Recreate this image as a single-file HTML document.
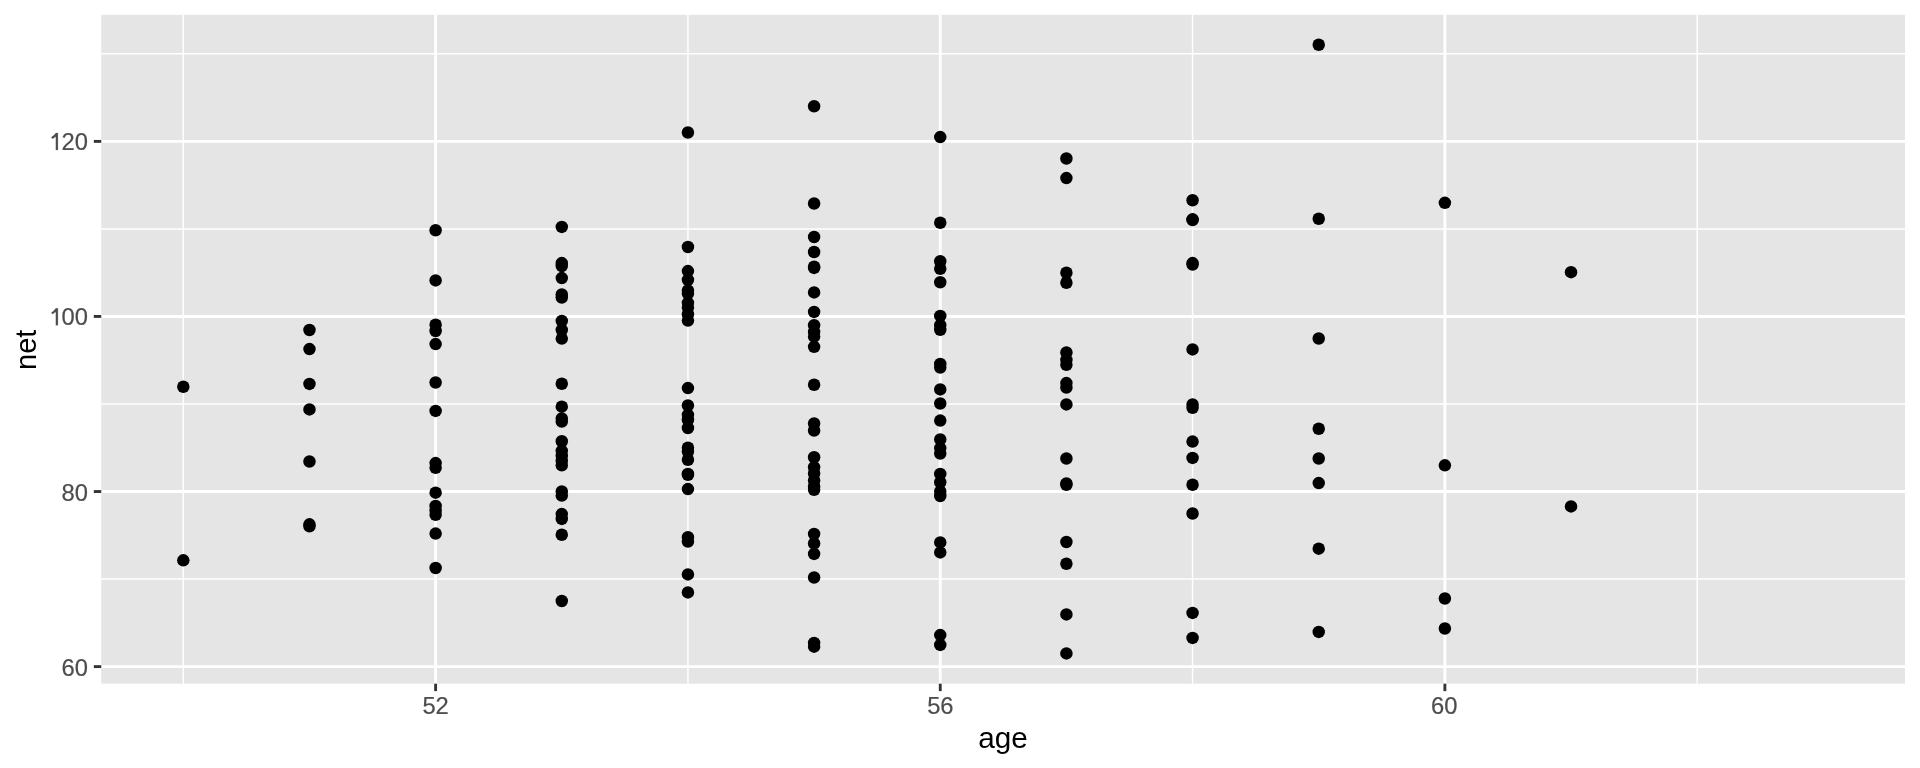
<!DOCTYPE html><html><head><meta charset="utf-8"><style>html,body{margin:0;padding:0;background:#fff;overflow:hidden}svg{display:block;will-change:transform}text{font-family:"Liberation Sans",sans-serif}</style></head><body>
<svg width="1920" height="768" viewBox="0 0 1920 768">
<rect x="0" y="0" width="1920" height="768" fill="#fff"/>
<rect x="101.25" y="14.85" width="1803.75" height="668.85" fill="#E5E5E5"/>
<line x1="101.25" y1="579.07" x2="1905.0" y2="579.07" stroke="#fff" stroke-width="1.44"/><line x1="101.25" y1="404.00" x2="1905.0" y2="404.00" stroke="#fff" stroke-width="1.44"/><line x1="101.25" y1="228.92" x2="1905.0" y2="228.92" stroke="#fff" stroke-width="1.44"/><line x1="101.25" y1="53.84" x2="1905.0" y2="53.84" stroke="#fff" stroke-width="1.44"/><line x1="183.31" y1="14.85" x2="183.31" y2="683.7" stroke="#fff" stroke-width="1.44"/><line x1="687.94" y1="14.85" x2="687.94" y2="683.7" stroke="#fff" stroke-width="1.44"/><line x1="1192.57" y1="14.85" x2="1192.57" y2="683.7" stroke="#fff" stroke-width="1.44"/><line x1="1697.20" y1="14.85" x2="1697.20" y2="683.7" stroke="#fff" stroke-width="1.44"/><line x1="101.25" y1="666.61" x2="1905.0" y2="666.61" stroke="#fff" stroke-width="2.88"/><line x1="101.25" y1="491.53" x2="1905.0" y2="491.53" stroke="#fff" stroke-width="2.88"/><line x1="101.25" y1="316.46" x2="1905.0" y2="316.46" stroke="#fff" stroke-width="2.88"/><line x1="101.25" y1="141.38" x2="1905.0" y2="141.38" stroke="#fff" stroke-width="2.88"/><line x1="435.62" y1="14.85" x2="435.62" y2="683.7" stroke="#fff" stroke-width="2.88"/><line x1="940.25" y1="14.85" x2="940.25" y2="683.7" stroke="#fff" stroke-width="2.88"/><line x1="1444.88" y1="14.85" x2="1444.88" y2="683.7" stroke="#fff" stroke-width="2.88"/>
<g fill="#000"><circle cx="183.31" cy="386.75" r="6.24"/><circle cx="183.31" cy="560.30" r="6.24"/><circle cx="309.47" cy="330.00" r="6.24"/><circle cx="309.47" cy="349.10" r="6.24"/><circle cx="309.47" cy="383.90" r="6.24"/><circle cx="309.47" cy="409.40" r="6.24"/><circle cx="309.47" cy="461.50" r="6.24"/><circle cx="309.47" cy="524.30" r="6.24"/><circle cx="309.47" cy="526.30" r="6.24"/><circle cx="435.62" cy="230.25" r="6.24"/><circle cx="435.62" cy="280.40" r="6.24"/><circle cx="435.62" cy="324.75" r="6.24"/><circle cx="435.62" cy="331.00" r="6.24"/><circle cx="435.62" cy="344.10" r="6.24"/><circle cx="435.62" cy="382.50" r="6.24"/><circle cx="435.62" cy="410.90" r="6.24"/><circle cx="435.62" cy="463.10" r="6.24"/><circle cx="435.62" cy="467.75" r="6.24"/><circle cx="435.62" cy="492.70" r="6.24"/><circle cx="435.62" cy="506.00" r="6.24"/><circle cx="435.62" cy="510.50" r="6.24"/><circle cx="435.62" cy="514.75" r="6.24"/><circle cx="435.62" cy="533.60" r="6.24"/><circle cx="435.62" cy="568.00" r="6.24"/><circle cx="561.78" cy="226.90" r="6.24"/><circle cx="561.78" cy="263.10" r="6.24"/><circle cx="561.78" cy="266.00" r="6.24"/><circle cx="561.78" cy="278.10" r="6.24"/><circle cx="561.78" cy="294.40" r="6.24"/><circle cx="561.78" cy="297.50" r="6.24"/><circle cx="561.78" cy="321.00" r="6.24"/><circle cx="561.78" cy="330.00" r="6.24"/><circle cx="561.78" cy="338.60" r="6.24"/><circle cx="561.78" cy="383.75" r="6.24"/><circle cx="561.78" cy="406.70" r="6.24"/><circle cx="561.78" cy="418.50" r="6.24"/><circle cx="561.78" cy="421.60" r="6.24"/><circle cx="561.78" cy="441.25" r="6.24"/><circle cx="561.78" cy="451.00" r="6.24"/><circle cx="561.78" cy="456.00" r="6.24"/><circle cx="561.78" cy="461.00" r="6.24"/><circle cx="561.78" cy="465.30" r="6.24"/><circle cx="561.78" cy="491.40" r="6.24"/><circle cx="561.78" cy="495.60" r="6.24"/><circle cx="561.78" cy="514.10" r="6.24"/><circle cx="561.78" cy="518.90" r="6.24"/><circle cx="561.78" cy="534.75" r="6.24"/><circle cx="561.78" cy="601.00" r="6.24"/><circle cx="687.94" cy="132.50" r="6.24"/><circle cx="687.94" cy="247.00" r="6.24"/><circle cx="687.94" cy="271.05" r="6.24"/><circle cx="687.94" cy="279.80" r="6.24"/><circle cx="687.94" cy="290.50" r="6.24"/><circle cx="687.94" cy="293.50" r="6.24"/><circle cx="687.94" cy="302.80" r="6.24"/><circle cx="687.94" cy="307.60" r="6.24"/><circle cx="687.94" cy="314.20" r="6.24"/><circle cx="687.94" cy="320.55" r="6.24"/><circle cx="687.94" cy="388.10" r="6.24"/><circle cx="687.94" cy="405.40" r="6.24"/><circle cx="687.94" cy="414.80" r="6.24"/><circle cx="687.94" cy="420.00" r="6.24"/><circle cx="687.94" cy="428.00" r="6.24"/><circle cx="687.94" cy="447.65" r="6.24"/><circle cx="687.94" cy="451.50" r="6.24"/><circle cx="687.94" cy="459.75" r="6.24"/><circle cx="687.94" cy="473.90" r="6.24"/><circle cx="687.94" cy="474.75" r="6.24"/><circle cx="687.94" cy="489.10" r="6.24"/><circle cx="687.94" cy="537.25" r="6.24"/><circle cx="687.94" cy="541.50" r="6.24"/><circle cx="687.94" cy="574.45" r="6.24"/><circle cx="687.94" cy="592.40" r="6.24"/><circle cx="814.10" cy="106.25" r="6.24"/><circle cx="814.10" cy="203.50" r="6.24"/><circle cx="814.10" cy="237.00" r="6.24"/><circle cx="814.10" cy="252.00" r="6.24"/><circle cx="814.10" cy="266.65" r="6.24"/><circle cx="814.10" cy="267.90" r="6.24"/><circle cx="814.10" cy="292.40" r="6.24"/><circle cx="814.10" cy="311.90" r="6.24"/><circle cx="814.10" cy="325.20" r="6.24"/><circle cx="814.10" cy="332.00" r="6.24"/><circle cx="814.10" cy="336.60" r="6.24"/><circle cx="814.10" cy="346.80" r="6.24"/><circle cx="814.10" cy="384.75" r="6.24"/><circle cx="814.10" cy="423.50" r="6.24"/><circle cx="814.10" cy="430.50" r="6.24"/><circle cx="814.10" cy="457.25" r="6.24"/><circle cx="814.10" cy="467.25" r="6.24"/><circle cx="814.10" cy="473.50" r="6.24"/><circle cx="814.10" cy="480.50" r="6.24"/><circle cx="814.10" cy="486.50" r="6.24"/><circle cx="814.10" cy="489.75" r="6.24"/><circle cx="814.10" cy="534.00" r="6.24"/><circle cx="814.10" cy="543.50" r="6.24"/><circle cx="814.10" cy="553.90" r="6.24"/><circle cx="814.10" cy="577.50" r="6.24"/><circle cx="814.10" cy="643.00" r="6.24"/><circle cx="814.10" cy="646.70" r="6.24"/><circle cx="940.25" cy="137.10" r="6.24"/><circle cx="940.25" cy="222.75" r="6.24"/><circle cx="940.25" cy="261.25" r="6.24"/><circle cx="940.25" cy="268.75" r="6.24"/><circle cx="940.25" cy="282.25" r="6.24"/><circle cx="940.25" cy="315.95" r="6.24"/><circle cx="940.25" cy="325.20" r="6.24"/><circle cx="940.25" cy="329.80" r="6.24"/><circle cx="940.25" cy="364.00" r="6.24"/><circle cx="940.25" cy="367.50" r="6.24"/><circle cx="940.25" cy="389.40" r="6.24"/><circle cx="940.25" cy="403.50" r="6.24"/><circle cx="940.25" cy="420.60" r="6.24"/><circle cx="940.25" cy="439.40" r="6.24"/><circle cx="940.25" cy="448.10" r="6.24"/><circle cx="940.25" cy="453.50" r="6.24"/><circle cx="940.25" cy="474.00" r="6.24"/><circle cx="940.25" cy="482.25" r="6.24"/><circle cx="940.25" cy="491.50" r="6.24"/><circle cx="940.25" cy="496.00" r="6.24"/><circle cx="940.25" cy="542.40" r="6.24"/><circle cx="940.25" cy="552.40" r="6.24"/><circle cx="940.25" cy="635.10" r="6.24"/><circle cx="940.25" cy="644.90" r="6.24"/><circle cx="1066.41" cy="158.50" r="6.24"/><circle cx="1066.41" cy="178.10" r="6.24"/><circle cx="1066.41" cy="272.75" r="6.24"/><circle cx="1066.41" cy="282.75" r="6.24"/><circle cx="1066.41" cy="352.50" r="6.24"/><circle cx="1066.41" cy="360.00" r="6.24"/><circle cx="1066.41" cy="364.75" r="6.24"/><circle cx="1066.41" cy="383.10" r="6.24"/><circle cx="1066.41" cy="387.50" r="6.24"/><circle cx="1066.41" cy="404.40" r="6.24"/><circle cx="1066.41" cy="458.50" r="6.24"/><circle cx="1066.41" cy="483.50" r="6.24"/><circle cx="1066.41" cy="484.75" r="6.24"/><circle cx="1066.41" cy="542.00" r="6.24"/><circle cx="1066.41" cy="563.75" r="6.24"/><circle cx="1066.41" cy="614.40" r="6.24"/><circle cx="1066.41" cy="653.40" r="6.24"/><circle cx="1192.57" cy="200.25" r="6.24"/><circle cx="1192.57" cy="219.35" r="6.24"/><circle cx="1192.57" cy="220.00" r="6.24"/><circle cx="1192.57" cy="263.10" r="6.24"/><circle cx="1192.57" cy="264.60" r="6.24"/><circle cx="1192.57" cy="349.40" r="6.24"/><circle cx="1192.57" cy="404.40" r="6.24"/><circle cx="1192.57" cy="407.75" r="6.24"/><circle cx="1192.57" cy="441.60" r="6.24"/><circle cx="1192.57" cy="457.90" r="6.24"/><circle cx="1192.57" cy="484.75" r="6.24"/><circle cx="1192.57" cy="513.50" r="6.24"/><circle cx="1192.57" cy="612.90" r="6.24"/><circle cx="1192.57" cy="637.90" r="6.24"/><circle cx="1318.73" cy="44.75" r="6.24"/><circle cx="1318.73" cy="218.75" r="6.24"/><circle cx="1318.73" cy="338.50" r="6.24"/><circle cx="1318.73" cy="428.75" r="6.24"/><circle cx="1318.73" cy="458.50" r="6.24"/><circle cx="1318.73" cy="483.10" r="6.24"/><circle cx="1318.73" cy="548.70" r="6.24"/><circle cx="1318.73" cy="631.90" r="6.24"/><circle cx="1444.88" cy="202.80" r="6.24"/><circle cx="1444.88" cy="465.30" r="6.24"/><circle cx="1444.88" cy="598.50" r="6.24"/><circle cx="1444.88" cy="628.50" r="6.24"/><circle cx="1571.04" cy="272.20" r="6.24"/><circle cx="1571.04" cy="506.40" r="6.24"/></g>
<g stroke="#333" stroke-width="2.88"><line x1="93.82" y1="666.61" x2="101.25" y2="666.61"/><line x1="93.82" y1="491.53" x2="101.25" y2="491.53"/><line x1="93.82" y1="316.46" x2="101.25" y2="316.46"/><line x1="93.82" y1="141.38" x2="101.25" y2="141.38"/><line x1="435.62" y1="683.7" x2="435.62" y2="691.13"/><line x1="940.25" y1="683.7" x2="940.25" y2="691.13"/><line x1="1444.88" y1="683.7" x2="1444.88" y2="691.13"/></g>
<g fill="#4D4D4D" stroke="#4D4D4D" stroke-width="0.2" font-size="23.76"><text x="87.9" y="676.16" text-anchor="end">60</text><text x="87.9" y="501.08" text-anchor="end">80</text><path d="M55.85 308.34h2.05v16.95h-2.05v-13.45q-1.6 1.4-3.4 2.25l-1.2-1.45q2.9-1.7 4.6-4.3z"/><text x="87.9" y="325.21" text-anchor="end">00</text><path d="M55.85 132.96h2.05v16.95h-2.05v-13.45q-1.6 1.4-3.4 2.25l-1.2-1.45q2.9-1.7 4.6-4.3z"/><text x="87.9" y="149.83" text-anchor="end">20</text><text x="435.62" y="714.1" text-anchor="middle">52</text><text x="940.35" y="714.1" text-anchor="middle">56</text><text x="1444.28" y="714.1" text-anchor="middle">60</text></g>
<text x="1003.12" y="747.8" text-anchor="middle" font-size="29.7" fill="#000">age</text>
<text transform="translate(35.5 349.78) rotate(-90)" x="0" y="0" text-anchor="middle" font-size="29.1" fill="#000">net</text>
</svg></body></html>
